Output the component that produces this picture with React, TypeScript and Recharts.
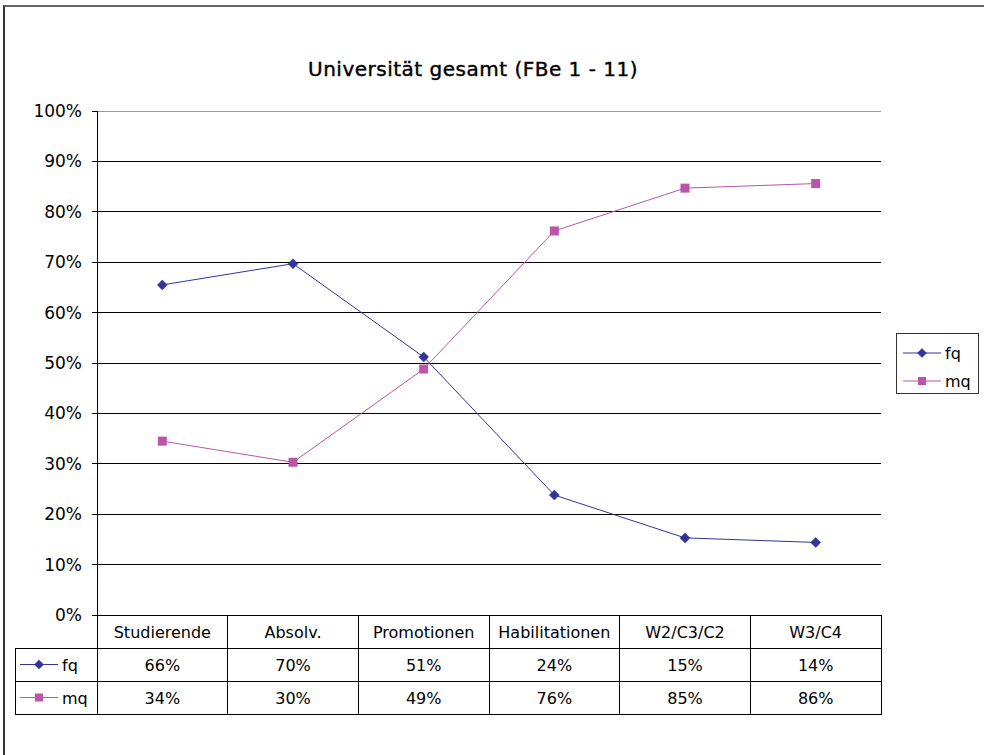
import React from 'react';
import { LineChart, Line, XAxis, YAxis, CartesianGrid, ReferenceLine } from 'recharts';

const categories = ['Studierende', 'Absolv.', 'Promotionen', 'Habilitationen', 'W2/C3/C2', 'W3/C4'];
const fqValues = [65.5, 69.7, 51.2, 23.8, 15.3, 14.4];
const mqValues = [34.5, 30.3, 48.8, 76.2, 84.7, 85.6];
const fqLabels = ['66%', '70%', '51%', '24%', '15%', '14%'];
const mqLabels = ['34%', '30%', '49%', '76%', '85%', '86%'];
const yTicks = [0, 10, 20, 30, 40, 50, 60, 70, 80, 90, 100];

const data = categories.map((name, i) => ({ name, fq: fqValues[i], mq: mqValues[i] }));

const W = 984;
const H = 755;
const PLOT_LEFT = 97;
const PLOT_RIGHT = 881;
const PLOT_TOP = 111;
const TABLE_H = 140;
const CELL_W = (PLOT_RIGHT - PLOT_LEFT) / categories.length;
const ROW_H = 33;
const LEG_W = 82;

const FQ_COLOR = '#333399';
const MQ_COLOR = '#BB55AA';
const FONT = '"DejaVu Sans", sans-serif';

const Diamond = ({ cx, cy, size = 5 }: { cx: number; cy: number; size?: number }) => (
  <path
    d={`M${cx},${cy - size} L${cx + size},${cy} L${cx},${cy + size} L${cx - size},${cy} Z`}
    fill={FQ_COLOR}
    stroke={FQ_COLOR}
    strokeWidth={0.5}
  />
);

const Square = ({ cx, cy, size = 4.5 }: { cx: number; cy: number; size?: number }) => (
  <rect x={cx - size} y={cy - size} width={size * 2} height={size * 2} fill={MQ_COLOR} />
);

// short line with a marker, as in the legend and the data table
const LegendMark = ({ x, y, kind }: { x: number; y: number; kind: 'fq' | 'mq' }) => (
  <g>
    <line x1={x} y1={y} x2={x + 38} y2={y} stroke={kind === 'fq' ? FQ_COLOR : MQ_COLOR} strokeWidth={1} />
    {kind === 'fq' ? <Diamond cx={x + 19} cy={y} size={4.5} /> : <Square cx={x + 19} cy={y} size={4} />}
  </g>
);

const TableTick = (props: any) => {
  const { x, y, payload } = props;
  const i = categories.indexOf(payload.value);
  const left = x - CELL_W / 2;
  const cellText = { fontSize: 16, fill: '#000', fontFamily: FONT, textAnchor: 'middle' as const };
  return (
    <g shapeRendering="crispEdges">
      <rect x={left} y={y} width={CELL_W} height={ROW_H} fill="none" stroke="#000" />
      <rect x={left} y={y + ROW_H} width={CELL_W} height={ROW_H} fill="none" stroke="#000" />
      <rect x={left} y={y + ROW_H * 2} width={CELL_W} height={ROW_H} fill="none" stroke="#000" />
      <text x={x} y={y + ROW_H / 2 + 6} {...cellText}>{payload.value}</text>
      <text x={x} y={y + ROW_H * 1.5 + 6} {...cellText}>{fqLabels[i]}</text>
      <text x={x} y={y + ROW_H * 2.5 + 6} {...cellText}>{mqLabels[i]}</text>
      {i === 0 && (
        <g>
          <rect x={left - LEG_W} y={y + ROW_H} width={LEG_W} height={ROW_H} fill="none" stroke="#000" />
          <rect x={left - LEG_W} y={y + ROW_H * 2} width={LEG_W} height={ROW_H} fill="none" stroke="#000" />
          <g shapeRendering="auto">
            <LegendMark x={left - LEG_W + 5} y={y + ROW_H * 1.5} kind="fq" />
            <LegendMark x={left - LEG_W + 5} y={y + ROW_H * 2.5} kind="mq" />
          </g>
          <text x={left - LEG_W + 47} y={y + ROW_H * 1.5 + 6} fontSize={16} fontFamily={FONT} fill="#000">fq</text>
          <text x={left - LEG_W + 47} y={y + ROW_H * 2.5 + 6} fontSize={16} fontFamily={FONT} fill="#000">mq</text>
        </g>
      )}
    </g>
  );
};

const SideLegend = () => (
  <div
    style={{
      position: 'absolute',
      left: 896,
      top: 333,
      width: 83,
      height: 61,
      border: '1px solid #333',
      boxSizing: 'border-box',
      background: '#fff',
    }}
  >
    <svg width={81} height={59} style={{ display: 'block' }}>
      <LegendMark x={6} y={19} kind="fq" />
      <text x={48} y={25} fontSize={16} fontFamily={FONT}>fq</text>
      <LegendMark x={6} y={47} kind="mq" />
      <text x={48} y={53} fontSize={16} fontFamily={FONT}>mq</text>
    </svg>
  </div>
);

export default function App() {
  return (
    <div style={{ position: 'absolute', left: 0, top: 0, width: W, height: H, background: '#fff', overflow: 'hidden' }}>
      <div
        style={{
          position: 'absolute',
          left: 3,
          top: 5,
          width: W,
          height: H,
          borderTop: '2px solid #666',
          borderLeft: '2px solid #333',
        }}
      />
      <div
        style={{
          position: 'absolute',
          left: 0,
          width: 946,
          top: 58,
          textAlign: 'center',
          fontFamily: FONT,
          fontSize: 20,
          letterSpacing: 0.5,
          lineHeight: '23px',
          color: '#000',
          WebkitTextStroke: '0.4px #000',
        }}
      >
        Universität gesamt (FBe 1 - 11)
      </div>
      <div style={{ position: 'absolute', left: 0, top: 0 }}>
        <LineChart width={W} height={H} data={data} margin={{ top: PLOT_TOP, right: W - PLOT_RIGHT, bottom: 0, left: 0 }}>
          <CartesianGrid vertical={false} stroke="#000" strokeOpacity={1} shapeRendering="crispEdges" />
          <XAxis
            dataKey="name"
            height={TABLE_H}
            padding={{ left: CELL_W / 2, right: CELL_W / 2 }}
            axisLine={{ stroke: '#000', shapeRendering: 'crispEdges' }}
            tickLine={false}
            tickSize={0}
            tickMargin={0}
            interval={0}
            tick={<TableTick />}
          />
          <YAxis
            width={PLOT_LEFT}
            domain={[0, 100]}
            ticks={yTicks}
            tickFormatter={(v: number) => `${v}%`}
            axisLine={{ stroke: '#000', shapeRendering: 'crispEdges' }}
            tickLine={{ stroke: '#000', shapeRendering: 'crispEdges' }}
            tickSize={5}
            tickMargin={10}
            tick={{ fontSize: 17, fill: '#000', fontFamily: FONT }}
          />
          <YAxis
            yAxisId="right"
            orientation="right"
            width={0}
            domain={[0, 100]}
            tick={false}
            tickLine={false}
            axisLine={{ stroke: '#999', shapeRendering: 'crispEdges' }}
          />
          <ReferenceLine y={100} stroke="#999" shapeRendering="crispEdges" />
          <Line
            dataKey="fq"
            stroke={FQ_COLOR}
            strokeWidth={1}
            isAnimationActive={false}
            dot={(p: any) => <Diamond key={`fq-${p.index}`} cx={p.cx} cy={p.cy} />}
          />
          <Line
            dataKey="mq"
            stroke={MQ_COLOR}
            strokeWidth={1}
            isAnimationActive={false}
            dot={(p: any) => <Square key={`mq-${p.index}`} cx={p.cx} cy={p.cy} />}
          />
        </LineChart>
      </div>
      <SideLegend />
    </div>
  );
}
